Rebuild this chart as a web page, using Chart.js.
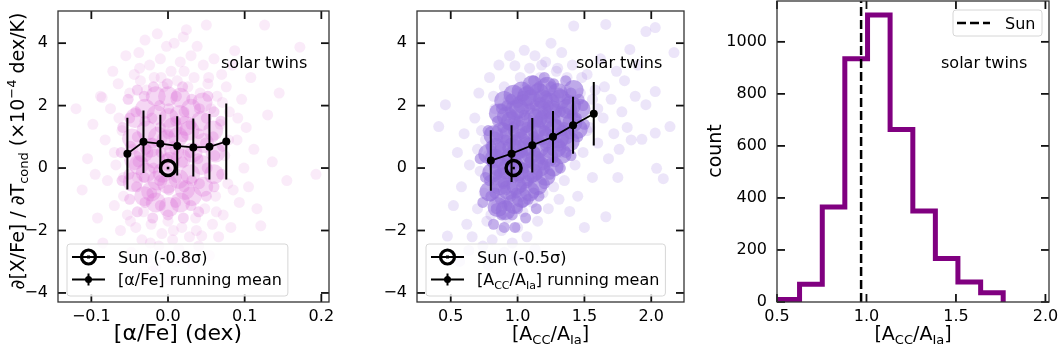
<!DOCTYPE html>
<html>
<head>
<meta charset="utf-8">
<script src="https://cdn.jsdelivr.net/npm/chart.js@4.4.1/dist/chart.umd.min.js"></script>
<style>
  body { margin: 0; background: #fff; width: 1063px; height: 347px; position: relative; overflow: hidden; }
  canvas { position: absolute; top: 0; }
</style>
</head>
<body>
<canvas id="alphaChart" width="340" height="347" style="left:0px"></canvas>
<canvas id="ratioChart" width="355" height="347" style="left:340px"></canvas>
<canvas id="histChart" width="368" height="347" style="left:695px"></canvas>
<script>
// ---- data ----
const alphaMeanX = [-0.053, -0.032, -0.010, 0.012, 0.033, 0.054, 0.076];
const alphaMeanY = [0.46, 0.84, 0.78, 0.71, 0.66, 0.68, 0.85];
const alphaMeanErr = [1.15, 1.0, 0.93, 0.95, 0.93, 1.05, 1.22];
const sunAlpha = [0.0, 0.0];

const ratioMeanX = [0.80, 0.955, 1.11, 1.265, 1.415, 1.57];
const ratioMeanY = [0.24, 0.46, 0.73, 1.0, 1.37, 1.74];
const ratioMeanErr = [0.97, 0.91, 0.87, 0.83, 0.91, 1.02];
const sunRatio = [0.97, 0.0];

const binEdges = [0.5, 0.626, 0.753, 0.879, 1.006, 1.132, 1.259, 1.385, 1.511, 1.638, 1.764];
const binCounts = [10, 68, 365, 935, 1103, 663, 350, 167, 77, 36];
const sunValue = 0.97;

const alphaTicksX = [-0.1, 0.0, 0.1, 0.2];
const ratioTicksX = [0.5, 1.0, 1.5, 2.0];
const slopeTicks = [-4, -2, 0, 2, 4];
const histTicksX = [0.5, 1.0, 1.5, 2.0];
const histTicksY = [0, 200, 400, 600, 800, 1000];

// stars, [alpha/Fe] vs slope (outer, sparse)
const alphaHalo = [
  [-0.12,1.9],[-0.112,-0.7],[-0.105,0.3],[-0.098,1.4],[-0.095,-0.2],[-0.092,-1.6],[-0.088,2.3],[-0.086,2.26],
  [-0.085,-2.4],[-0.082,0.9],[-0.079,-0.4],[-0.075,1.9],[-0.072,3.1],[-0.07,-1.2],[-0.068,0.1],[-0.065,2.7],
  [-0.062,-2.0],[-0.06,1.2],[-0.058,-0.9],[-0.055,3.6],[-0.053,-1.5],[-0.05,2.4],[-0.048,-2.7],[-0.046,0.6],
  [-0.044,3.0],[-0.042,-1.9],[-0.04,-0.3],[-0.038,3.7],[-0.036,2.8],[-0.034,-2.3],[-0.032,-1.4],[-0.03,4.1],
  [-0.028,2.5],[-0.026,-2.9],[-0.024,3.3],[-0.022,-1.8],[-0.02,-3.3],[-0.018,2.9],[-0.016,-3.15],[-0.014,4.3],
  [-0.012,-2.5],[-0.01,3.5],[-0.008,-2.1],[-0.006,2.6],[-0.004,-2.8],[-0.002,3.9],[0.0,-1.7],[0.002,-3.6],
  [0.004,3.1],[0.006,-2.3],[0.008,4.0],[0.01,-3.0],[0.012,2.8],[0.014,-2.6],[0.016,3.4],[0.018,-1.9],
  [0.02,4.2],[0.022,-2.9],[0.024,4.43],[0.026,2.6],[0.028,-2.2],[0.03,3.6],[0.032,-3.1],[0.034,2.9],
  [0.036,-1.6],[0.038,3.9],[0.04,-2.5],[0.042,2.4],[0.044,-2.17],[0.046,3.3],[0.048,-1.3],[0.05,4.58],
  [0.052,2.7],[0.054,-2.8],[0.056,1.9],[0.058,-1.8],[0.06,3.5],[0.062,-0.9],[0.064,2.3],[0.066,-2.2],
  [0.068,1.4],[0.07,3.0],[0.072,-1.5],[0.074,0.4],[0.076,2.6],[0.078,-0.5],[0.08,1.8],[0.082,-1.9],
  [0.084,3.3],[0.087,3.76],[0.09,0.9],[0.093,-1.1],[0.096,2.2],[0.099,0.0],[0.102,1.3],[0.105,-0.6],
  [0.108,2.9],[0.112,0.6],[0.116,-1.3],[0.121,-1.85],[0.126,4.58],[0.13,1.7],[0.136,0.2],[0.145,2.4],
  [0.155,-0.4],[0.172,3.87],[0.193,-0.2],
  [-0.064,1.6],[-0.058,-0.3],[-0.049,-1.7],[-0.037,3.2],[-0.023,-2.4],[-0.009,2.9],[0.007,-2.0],[0.021,3.1],
  [0.037,-2.0],[0.053,2.9],[0.063,-1.4],[0.071,2.1],[0.079,0.9],[0.085,-0.7],[0.091,1.6],[-0.07,0.5]
];
// stars, [alpha/Fe] vs slope (inner, individual markers)
const alphaMid = [
  [-0.06,-0.4],[-0.061,0.5],[-0.059,1.3],
  [-0.05,-1.0],[-0.051,-0.2],[-0.049,0.7],[-0.05,1.6],[-0.052,2.2],
  [-0.04,-1.4],[-0.041,-0.6],[-0.039,0.2],[-0.04,1.0],[-0.042,1.8],[-0.04,2.5],
  [-0.03,-1.1],[-0.031,-0.3],[-0.029,0.6],[-0.03,1.5],[-0.031,2.3],
  [-0.02,-1.6],[-0.021,-0.8],[-0.019,0.0],[-0.02,0.8],[-0.021,1.6],[-0.019,2.6],
  [-0.01,-1.2],[-0.011,-0.4],[-0.009,0.5],[-0.01,1.3],[-0.011,2.0],
  [0.0,-1.5],[0.001,-0.7],[-0.001,0.3],[0.0,1.1],[0.001,1.9],[-0.001,2.7],
  [0.01,-1.1],[0.011,-0.3],[0.009,0.6],[0.01,1.5],[0.011,2.3],
  [0.02,-1.6],[0.021,-0.6],[0.019,0.2],[0.02,1.0],[0.021,1.8],[0.019,2.6],
  [0.03,-1.2],[0.031,-0.4],[0.029,0.5],[0.03,1.4],[0.031,2.2],
  [0.04,-1.4],[0.041,-0.5],[0.039,0.3],[0.04,1.1],[0.041,1.9],
  [0.05,-0.9],[0.051,0.0],[0.049,0.8],[0.05,1.6],[0.052,2.3],
  [0.06,-0.6],[0.061,0.4],[0.059,1.0],[0.06,1.8],
  [0.07,-0.2],[0.071,0.7],[0.069,1.5]
];
// stars, [alpha/Fe] vs slope (densest area, broad underlay)
const alphaCore = [
  [-0.046,-0.45],[-0.044,0.25],[-0.047,0.95],[-0.043,1.6],
  [-0.031,-0.9],[-0.029,-0.15],[-0.032,0.5],[-0.028,1.2],[-0.03,1.9],
  [-0.016,-1.1],[-0.014,-0.4],[-0.017,0.3],[-0.013,1.0],[-0.015,1.7],[-0.016,2.3],
  [0.001,-1.25],[-0.001,-0.5],[0.002,0.2],[-0.002,0.9],[0.001,1.6],[0.0,2.3],
  [0.016,-1.1],[0.014,-0.35],[0.017,0.3],[0.013,1.0],[0.015,1.7],[0.016,2.25],
  [0.031,-0.9],[0.029,-0.2],[0.032,0.5],[0.028,1.2],[0.03,1.9],
  [0.046,-0.6],[0.044,0.1],[0.047,0.8],[0.043,1.5],[0.045,2.1],
  [0.06,-0.2],[0.062,0.5],[0.059,1.2],
  [-0.022,-0.75],[-0.007,-0.15],[0.008,0.55],[0.023,1.35],[-0.023,0.65],[0.006,1.3],[0.022,-0.7],[-0.038,0.1]
];

// stars, A_CC/A_Ia vs slope (outer, sparse)
const ratioHalo = [
  [0.41,1.33],[0.46,2.03],[0.475,-2.18],[0.566,-2.99],[0.635,-2.64],[0.78,-3.11],[0.52,-1.2],[0.55,0.5],
  [0.58,-0.6],[0.6,1.1],[0.62,-1.8],[0.64,0.1],[0.66,-2.2],[0.68,1.6],[0.7,-1.3],[0.72,-0.1],[0.71,2.4],
  [0.74,-2.5],[0.76,0.9],[0.77,-1.7],[0.79,2.9],[0.81,-2.3],[0.83,1.9],[0.84,-1.2],[0.86,3.3],[0.88,-2.0],
  [0.9,2.6],[0.92,-1.6],[0.94,3.6],[0.96,-2.4],[0.98,3.28],[1.0,-1.9],[1.02,2.9],[1.05,3.77],[1.04,-1.4],
  [1.07,-2.2],[1.09,3.2],[1.11,-1.1],[1.13,3.6],[1.15,-1.7],[1.17,2.9],[1.19,-0.8],[1.21,3.4],[1.23,-1.3],
  [1.25,4.0],[1.27,-0.6],[1.29,3.1],[1.31,-1.0],[1.33,3.7],[1.35,-0.4],[1.37,2.9],[1.39,-1.39],[1.41,3.3],
  [1.42,4.55],[1.43,0.1],[1.45,-0.9],[1.47,2.4],[1.49,0.5],[1.5,-1.9],[1.52,3.0],[1.54,1.3],[1.56,-0.3],
  [1.58,2.5],[1.6,0.8],[1.62,3.5],[1.64,1.6],[1.66,-1.56],[1.66,4.6],[1.68,0.3],[1.7,2.2],[1.72,1.1],
  [1.74,3.1],[1.76,0.6],[1.78,1.8],[1.8,2.8],[1.82,1.3],[1.85,0.9],[1.88,2.3],[1.93,0.92],[1.96,2.03],
  [1.96,4.37],[2.03,1.12],[2.03,2.45],[2.03,4.5],[2.04,-0.01],[2.09,-0.34],[2.14,1.33],[2.17,3.7],
  [1.9,3.3],[1.84,3.8],[1.75,-0.3],
  [0.7,0.6],[0.73,1.2],[0.75,-0.8],[0.78,0.4],[0.8,-1.5],[0.82,2.3],[0.85,-0.6],[0.88,1.1],[0.9,-1.1],
  [0.93,2.2],[0.95,-0.5],[0.97,1.5],[1.0,2.4],[1.03,-0.9],[1.06,2.6],[1.1,-0.2],[1.12,2.5],[1.16,0.0],
  [1.2,2.7],[1.24,0.2],[1.28,2.3],[1.32,0.5],[1.36,2.5],[1.4,0.8],[1.44,1.6],[1.48,2.9],[1.52,1.2],
  [1.56,2.2],[1.6,1.9],[1.65,2.6],[1.3,3.2],[1.18,3.3],[0.99,-2.9],[0.9,-2.7],[1.13,-2.6],[0.83,-2.8]
];
// stars, A_CC/A_Ia vs slope (inner, individual markers)
const ratioMid = [
  [0.80,-0.9],[0.79,-0.4],[0.81,0.2],[0.80,0.7],[0.78,1.2],
  [0.84,-1.3],[0.83,-0.8],[0.85,-0.2],[0.84,0.4],[0.83,1.0],[0.85,1.5],
  [0.88,-1.5],[0.87,-1.0],[0.89,-0.5],[0.88,0.1],[0.87,0.7],[0.89,1.3],[0.88,1.9],
  [0.92,-1.2],[0.91,-0.7],[0.93,-0.2],[0.92,0.4],[0.91,0.9],[0.93,1.4],[0.92,2.0],
  [0.96,-1.5],[0.95,-0.9],[0.97,-0.3],[0.96,0.2],[0.95,0.8],[0.97,1.3],[0.96,1.7],[0.95,2.2],
  [1.0,-1.3],[0.99,-0.8],[1.01,-0.3],[1.0,0.4],[0.99,0.9],[1.01,1.5],[1.0,2.1],
  [1.04,-1.1],[1.03,-0.6],[1.05,0.0],[1.04,0.5],[1.03,1.1],[1.05,1.7],[1.04,2.3],
  [1.08,-1.0],[1.07,-0.4],[1.09,0.2],[1.08,0.8],[1.07,1.3],[1.09,1.9],[1.08,2.5],
  [1.12,-0.8],[1.11,-0.3],[1.13,0.5],[1.12,1.0],[1.11,1.4],[1.13,2.0],[1.12,2.8],
  [1.16,-0.9],[1.15,-0.2],[1.17,0.3],[1.16,0.9],[1.15,1.5],[1.17,2.1],[1.16,2.6],
  [1.2,-0.5],[1.19,0.1],[1.21,0.7],[1.2,1.2],[1.19,1.8],[1.21,2.3],[1.2,2.9],
  [1.24,-0.2],[1.23,0.5],[1.25,1.0],[1.24,1.6],[1.23,2.0],[1.25,2.6],
  [1.28,0.2],[1.27,0.8],[1.29,1.4],[1.28,1.9],[1.27,2.7],
  [1.32,0.0],[1.31,0.7],[1.33,1.2],[1.32,1.8],[1.31,2.4],
  [1.36,0.5],[1.35,1.3],[1.37,2.2],[1.36,2.8],
  [1.4,0.4],[1.39,1.1],[1.41,1.7],[1.4,2.4],
  [1.45,1.0],[1.44,1.6],[1.46,2.2],
  [1.5,1.4],[1.49,2.0],
  [0.74,-1.1],[0.76,-0.3],[0.72,0.3],[0.82,-1.8],[0.9,-1.9],[0.98,-1.9],[1.06,-1.6],[1.14,-1.3]
];
// stars, A_CC/A_Ia vs slope (densest area, broad underlay)
const ratioCore = [
  [0.79,-0.75],[0.81,-0.15],[0.78,0.45],[0.82,1.05],
  [0.85,-1.25],[0.87,-0.55],[0.86,0.05],[0.84,0.65],[0.88,1.15],[0.86,1.75],
  [0.91,-1.35],[0.93,-0.7],[0.92,-0.05],[0.9,0.55],[0.94,1.1],[0.92,1.65],[0.9,2.15],
  [0.97,-1.15],[0.99,-0.55],[0.98,0.05],[0.96,0.65],[1.0,1.25],[0.98,1.85],[0.97,2.35],
  [1.03,-0.95],[1.05,-0.35],[1.04,0.25],[1.02,0.85],[1.06,1.45],[1.04,2.05],[1.03,2.45],
  [1.09,-0.75],[1.11,-0.15],[1.1,0.45],[1.08,1.05],[1.12,1.6],[1.1,2.2],[1.11,2.65],
  [1.15,-0.55],[1.17,0.05],[1.16,0.65],[1.14,1.25],[1.18,1.85],[1.16,2.4],
  [1.21,-0.25],[1.23,0.35],[1.22,0.95],[1.2,1.55],[1.24,2.1],[1.22,2.6],
  [1.27,0.05],[1.29,0.65],[1.28,1.25],[1.26,1.85],[1.3,2.4],
  [1.33,0.45],[1.35,1.05],[1.34,1.65],[1.32,2.2],
  [1.39,0.85],[1.41,1.45],[1.4,2.0],[1.42,2.5],
  [1.45,1.25],[1.47,1.9],
  [0.89,-0.3],[0.95,0.35],[1.01,-0.1],[1.07,0.7],[1.13,0.25],[1.19,1.05],[1.25,1.5],[1.31,0.95],
  [0.95,1.5],[1.01,1.9],[1.07,2.3],[1.19,2.2],[0.83,0.3],[1.37,1.9],[1.0,0.6],[1.15,1.6]
];

// ---- helpers ----
Chart.defaults.font.family = "'DejaVu Sans', sans-serif";
Chart.defaults.font.size = 16;
Chart.defaults.color = '#000';

const toPts = arr => arr.map(([x, y]) => ({x, y}));
const minus = v => String(v).replace('-', '\u2212');

function errorSegments(xs, ys, es) {
  const out = [];
  xs.forEach((x, i) => {
    out.push({x, y: ys[i] - es[i]}, {x, y: ys[i] + es[i]}, {x, y: null});
  });
  return out;
}

function fontFor(s, size) {
  return ((s.sub || s.sup) ? Math.round(size * 0.7) : size) + "px 'DejaVu Sans', sans-serif";
}
function richWidth(ctx, segs, size) {
  let w = 0;
  segs.forEach(s => { ctx.font = fontFor(s, size); w += ctx.measureText(s.t).width; });
  return w;
}
function drawRich(ctx, segs, x, y, size, align, rotate) {
  ctx.save();
  ctx.translate(x, y);
  if (rotate) ctx.rotate(rotate);
  const w = richWidth(ctx, segs, size);
  let cx = align === 'center' ? -w / 2 : 0;
  ctx.textBaseline = 'alphabetic';
  ctx.textAlign = 'left';
  ctx.fillStyle = '#000';
  segs.forEach(s => {
    ctx.font = fontFor(s, size);
    const dy = s.sub ? size * 0.22 : s.sup ? -size * 0.42 : 0;
    ctx.fillText(s.t, cx, size * 0.36 + dy);
    cx += ctx.measureText(s.t).width;
  });
  ctx.restore();
}

function line(ctx, x1, y1, x2, y2) {
  ctx.beginPath(); ctx.moveTo(x1, y1); ctx.lineTo(x2, y2); ctx.stroke();
}

function legendBox(ctx, l, t, r, b) {
  ctx.save();
  ctx.beginPath();
  ctx.roundRect(l, t, r - l, b - t, 3);
  ctx.fillStyle = 'rgba(255,255,255,0.8)';
  ctx.fill();
  ctx.strokeStyle = '#d6d6d6';
  ctx.lineWidth = 1;
  ctx.stroke();
  ctx.restore();
}

function meanLegend(sunLabel, meanLabel) {
  return (ctx, a) => {
    const size = 16;
    const tw = Math.max(richWidth(ctx, sunLabel, size), richWidth(ctx, meanLabel, size));
    const l = a.left + 9, b = a.bottom - 6, t = b - 52, r = l + 51 + tw + 6;
    legendBox(ctx, l, t, r, b);
    const y1 = t + 13, y2 = t + 35.5, mx = l + 21.5;
    ctx.strokeStyle = '#000'; ctx.fillStyle = '#000';
    ctx.lineWidth = 2;
    line(ctx, l + 5, y1, l + 38, y1);
    ctx.lineWidth = 3.2;
    ctx.beginPath(); ctx.arc(mx, y1, 7, 0, Math.PI * 2); ctx.stroke();
    ctx.fillRect(mx - 1.5, y1 - 1.5, 3, 3);
    ctx.lineWidth = 2;
    line(ctx, l + 5, y2, l + 38, y2);
    line(ctx, mx, y2 - 6, mx, y2 + 6);
    ctx.beginPath(); ctx.arc(mx, y2, 3.5, 0, Math.PI * 2); ctx.fill();
    drawRich(ctx, sunLabel, l + 51, y1, size, 'left');
    drawRich(ctx, meanLabel, l + 51, y2, size, 'left');
  };
}

function sunLegend(ctx, a) {
  const l = a.right - 96, t = a.top + 9, r = a.right - 7, b = a.top + 35;
  legendBox(ctx, l, t, r, b);
  const y = t + 13;
  ctx.save();
  ctx.strokeStyle = '#000'; ctx.lineWidth = 2.5; ctx.setLineDash([9, 4]);
  line(ctx, l + 4, y, l + 37, y);
  ctx.restore();
  drawRich(ctx, [{t: 'Sun'}], l + 52, y, 16, 'left');
}

// frame, inward ticks on all four sides, rich-text labels and legends
const decorPlugin = {
  id: 'decor',
  afterDraw(chart, args, opts) {
    const {ctx, chartArea: a, scales} = chart;
    const x = scales.x, y = scales.y;
    ctx.save();
    ctx.strokeStyle = '#111';
    ctx.lineWidth = 1.8;
    x.ticks.forEach(tk => {
      const px = x.getPixelForValue(tk.value);
      line(ctx, px, a.bottom, px, a.bottom - 8);
      line(ctx, px, a.top, px, a.top + 8);
    });
    y.ticks.forEach(tk => {
      const py = y.getPixelForValue(tk.value);
      line(ctx, a.left, py, a.left + 8, py);
      line(ctx, a.right, py, a.right - 8, py);
    });
    ctx.strokeStyle = '#333';
    ctx.lineWidth = 1.3;
    ctx.strokeRect(a.left, a.top, a.right - a.left, a.bottom - a.top);
    (opts.texts || []).forEach(tx => {
      const px = typeof tx.x === 'function' ? tx.x(a) : tx.x;
      const py = typeof tx.y === 'function' ? tx.y(a) : tx.y;
      drawRich(ctx, tx.segs, px, py, tx.size, tx.align, tx.rotate);
    });
    if (opts.legend) opts.legend(ctx, a);
    ctx.restore();
  }
};

function linScale(min, max, tickVals, fmt, fitSize, axis) {
  return {
    type: 'linear',
    min, max,
    grid: {display: false, drawTicks: false},
    border: {display: false},
    afterBuildTicks: s => { s.ticks = tickVals.map(v => ({value: v})); },
    afterFit: s => {
      if (axis === 'x') s.height = fitSize; else s.width = fitSize;
      s.paddingTop = 0; s.paddingBottom = 0; s.paddingLeft = 0; s.paddingRight = 0;
    },
    ticks: {
      padding: axis === 'x' ? 5 : 10,
      font: {size: 16},
      color: '#000',
      autoSkip: false,
      maxRotation: 0,
      callback: v => minus(fmt(v))
    }
  };
}

const baseOpts = {
  responsive: false,
  animation: false,
  events: [],
  plugins: {legend: {display: false}, tooltip: {enabled: false}}
};

function starSets(core, mid, halo, rgb, alphas) {
  const c = a => 'rgba(' + rgb + ',' + a + ')';
  return [
    {data: toPts(mid), pointRadius: 5.5, pointBorderWidth: 0, pointBackgroundColor: c(alphas[1]), order: 4},
    {data: toPts(halo), pointRadius: 5.5, pointBorderWidth: 0, pointBackgroundColor: c(alphas[2]), order: 5},
    {data: toPts(core), pointRadius: 10, pointBorderWidth: 0, pointBackgroundColor: c(alphas[0]), order: 6}
  ];
}

function meanSets(sun, xs, ys, es) {
  return [
    {data: toPts([sun]), pointRadius: 7.5, pointBorderWidth: 3.5, pointBorderColor: '#000',
     pointBackgroundColor: 'rgba(0,0,0,0)', order: 0},
    {data: toPts([sun]), pointRadius: 1.8, pointStyle: 'rect', pointBorderWidth: 0,
     pointBackgroundColor: '#000', order: 0},
    {data: xs.map((x, i) => ({x, y: ys[i]})), showLine: true, borderColor: '#000',
     borderWidth: 1.8, pointRadius: 4, pointBackgroundColor: '#000', pointBorderWidth: 0, order: 1},
    {data: errorSegments(xs, ys, es), showLine: true, spanGaps: false,
     borderColor: '#000', borderWidth: 2, pointRadius: 0, order: 2}
  ];
}

// ---- panel 1: [alpha/Fe] ----
new Chart(document.getElementById('alphaChart'), {
  type: 'scatter',
  plugins: [decorPlugin],
  data: {
    datasets: [
      ...meanSets(sunAlpha, alphaMeanX, alphaMeanY, alphaMeanErr),
      ...starSets(alphaCore, alphaMid, alphaHalo, '218,112,214', [0.28, 0.28, 0.14])
    ]
  },
  options: {
    ...baseOpts,
    layout: {padding: {top: 1, right: 9, left: 0, bottom: 0}},
    scales: {
      x: linScale(-0.1435, 0.21, alphaTicksX, v => v.toFixed(1), 45, 'x'),
      y: linScale(-4.29, 5.03, slopeTicks, v => v.toFixed(0), 58, 'y')
    },
    plugins: {
      ...baseOpts.plugins,
      decor: {
        texts: [
          {segs: [{t: 'solar twins'}], x: a => a.right - 108, y: 62, size: 16, align: 'left'},
          {segs: [{t: '[\u03b1/Fe] (dex)'}], x: 178, y: 332, size: 22, align: 'center'},
          {segs: [{t: '\u2202[X/Fe] / \u2202T'}, {t: 'cond', sub: true}, {t: ' (\u00d710'}, {t: '\u22124', sup: true}, {t: ' dex/K)'}],
           x: 17, y: 151, size: 19, align: 'center', rotate: -Math.PI / 2}
        ],
        legend: meanLegend([{t: 'Sun (-0.8\u03c3)'}], [{t: '[\u03b1/Fe] running mean'}])
      }
    }
  }
});

// ---- panel 2: A_CC / A_Ia ----
const accLabel = [{t: '[A'}, {t: 'CC', sub: true}, {t: '/A'}, {t: 'Ia', sub: true}, {t: ']'}];
new Chart(document.getElementById('ratioChart'), {
  type: 'scatter',
  plugins: [decorPlugin],
  data: {
    datasets: [
      ...meanSets(sunRatio, ratioMeanX, ratioMeanY, ratioMeanErr),
      ...starSets(ratioCore, ratioMid, ratioHalo, '147,112,219', [0.6, 0.55, 0.18])
    ]
  },
  options: {
    ...baseOpts,
    layout: {padding: {top: 1, right: 6, left: 0, bottom: 0}},
    scales: {
      x: linScale(0.2475, 2.245, ratioTicksX, v => v.toFixed(1), 45, 'x'),
      y: linScale(-4.29, 5.03, slopeTicks, v => v.toFixed(0), 77, 'y')
    },
    plugins: {
      ...baseOpts.plugins,
      decor: {
        texts: [
          {segs: [{t: 'solar twins'}], x: a => a.right - 108, y: 62, size: 16, align: 'left'},
          {segs: accLabel, x: a => (a.left + a.right) / 2, y: 333, size: 19, align: 'center'}
        ],
        legend: meanLegend([{t: 'Sun (-0.5\u03c3)'}], [{t: '[A'}, {t: 'CC', sub: true}, {t: '/A'}, {t: 'Ia', sub: true}, {t: '] running mean'}])
      }
    }
  }
});

// ---- panel 3: histogram ----
const stepPts = [{x: binEdges[0], y: 0}];
binCounts.forEach((c, i) => { stepPts.push({x: binEdges[i], y: c}, {x: binEdges[i + 1], y: c}); });
stepPts.push({x: binEdges[binEdges.length - 1], y: 0});
const histMax = 1157;

new Chart(document.getElementById('histChart'), {
  type: 'scatter',
  plugins: [decorPlugin],
  data: {
    datasets: [
      {data: [{x: sunValue, y: 0}, {x: sunValue, y: histMax}], showLine: true, borderColor: '#000',
       borderWidth: 2.5, borderDash: [9, 4], pointRadius: 0, order: 0},
      {data: stepPts, showLine: true, borderColor: '#800080', borderWidth: 5, pointRadius: 0,
       borderJoinStyle: 'miter', order: 1}
    ]
  },
  options: {
    ...baseOpts,
    layout: {padding: {top: 1, right: 14, left: 0, bottom: 0}},
    scales: {
      x: linScale(0.5, 2.02, histTicksX, v => v.toFixed(1), 45, 'x'),
      y: linScale(0, histMax, histTicksY, v => v.toFixed(0), 82, 'y')
    },
    plugins: {
      ...baseOpts.plugins,
      decor: {
        texts: [
          {segs: [{t: 'solar twins'}], x: a => a.right - 108, y: 62, size: 16, align: 'left'},
          {segs: accLabel, x: a => (a.left + a.right) / 2, y: 333, size: 19, align: 'center'},
          {segs: [{t: 'count'}], x: 19, y: 151, size: 19, align: 'center', rotate: -Math.PI / 2}
        ],
        legend: sunLegend
      }
    }
  }
});
</script>
</body>
</html>
